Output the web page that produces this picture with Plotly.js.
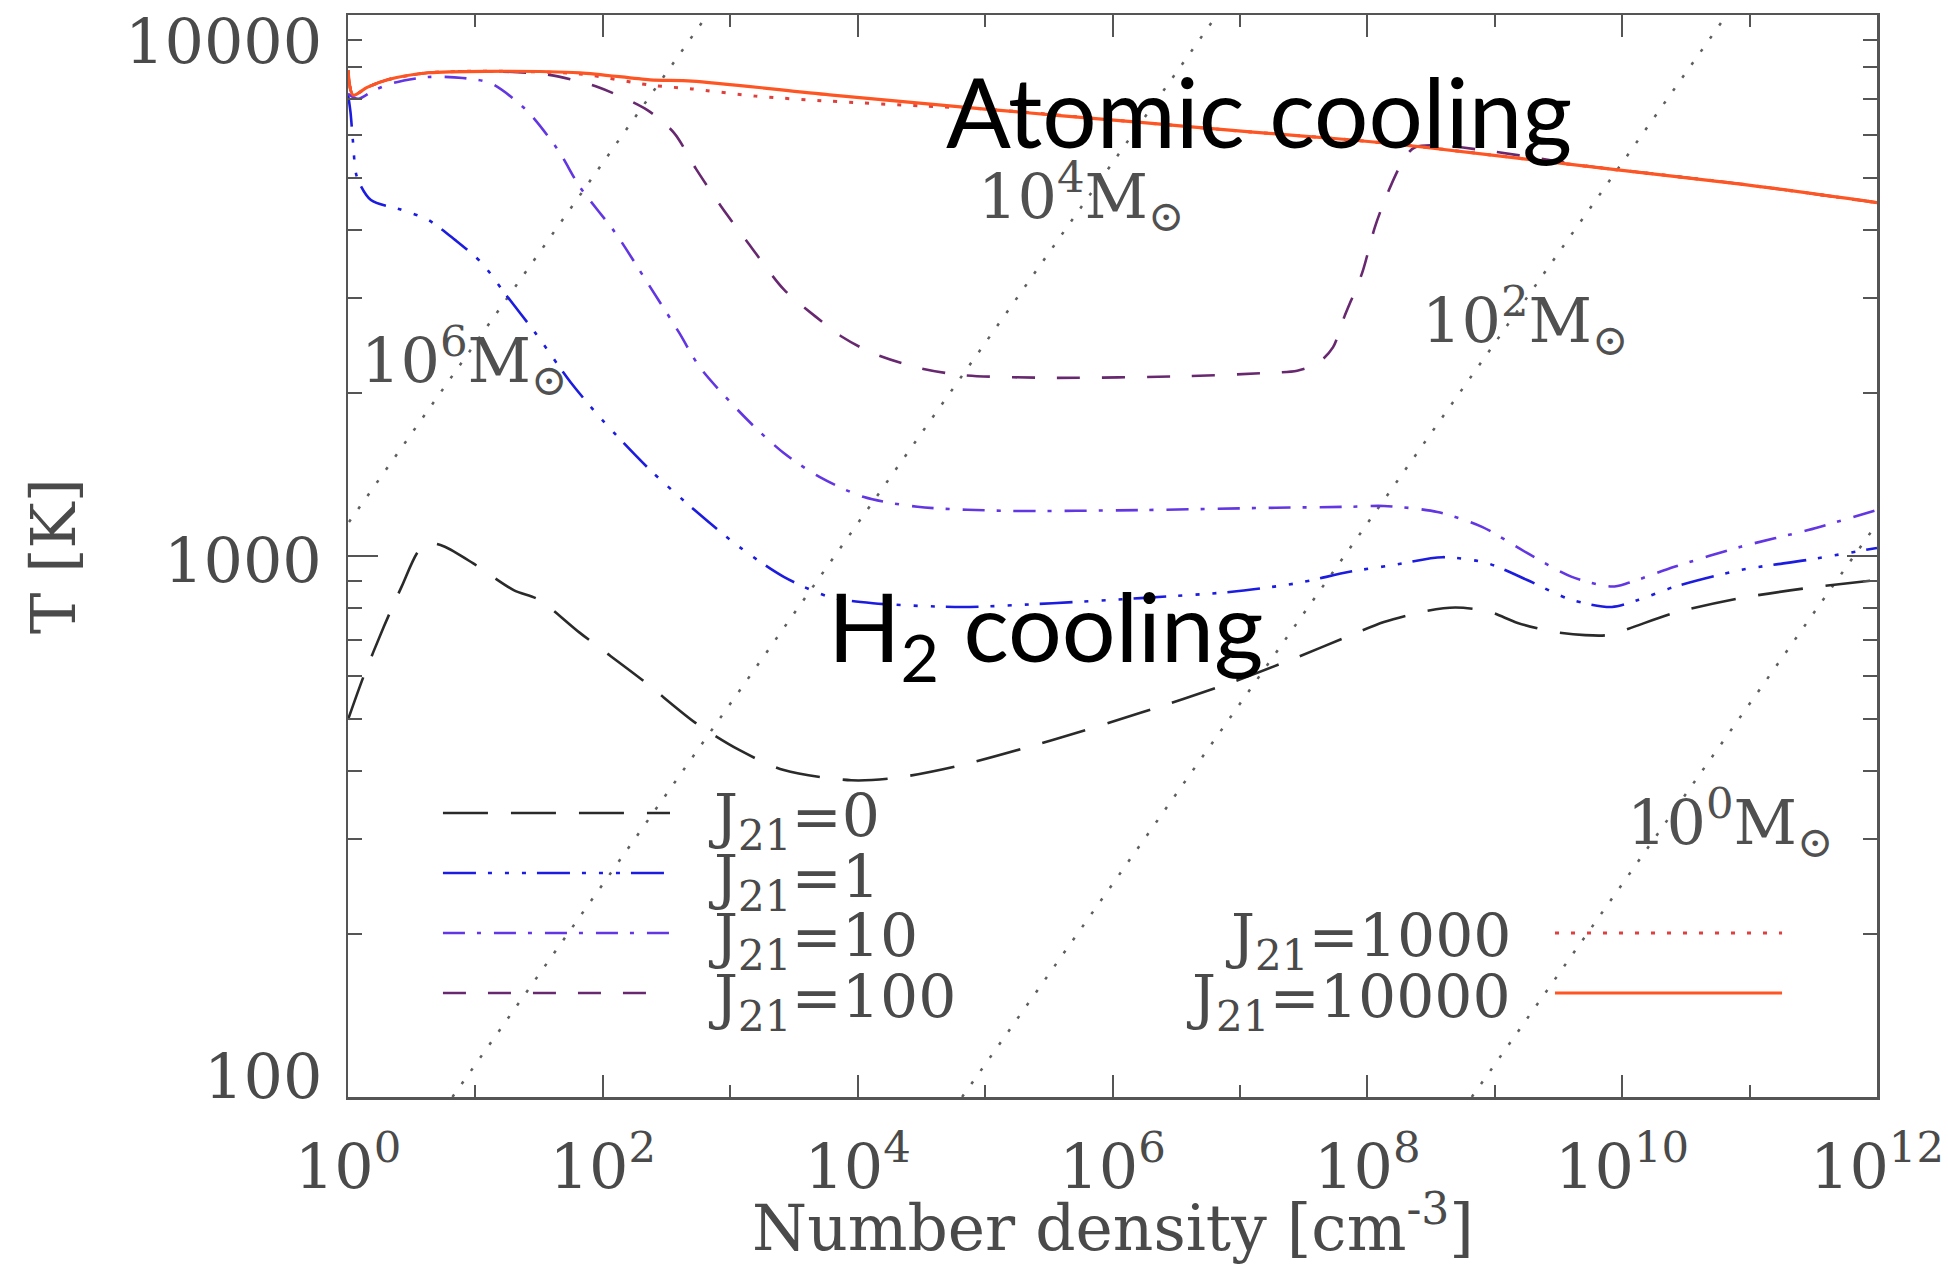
<!DOCTYPE html>
<html>
<head>
<meta charset="utf-8">
<script src="https://cdn.plot.ly/plotly-3.0.1.min.js"></script>
<style>
  html, body { margin: 0; padding: 0; background: #ffffff; }
  #chart { width: 1948px; height: 1282px; }
</style>
</head>
<body>
<div id="chart"></div>
<script>
// Gas temperature versus number density during collapse,
// for several strengths of the UV background J21.

// log10 of number density [cm^-3] and temperature [K] for each run
const logN_J0 = [0, 0.12, 0.28, 0.42, 0.56, 0.66, 0.76, 0.98, 1.30, 1.50, 1.82, 2.31, 2.73, 3.07, 3.42, 3.95, 4.30, 4.82, 5.53, 6.22, 6.92, 7.45, 7.86, 8.13, 8.45, 8.69, 8.95, 9.18, 9.45, 9.71, 9.88, 10.05, 10.41, 10.93, 11.46, 12.0];
const T_J0    = [498, 597, 739, 877, 1026, 1055, 1040, 970, 865, 830, 721, 590, 491, 438, 402, 385, 389, 411, 457, 513, 582, 650, 712, 755, 790, 803, 790, 752, 725, 714, 714, 734, 785, 836, 873, 903];

const logN_J1 = [0, 0.02, 0.04, 0.07, 0.18, 0.42, 0.63, 0.84, 1.05, 1.23, 1.47, 1.75, 2.0, 2.37, 2.72, 3.07, 3.42, 3.78, 4.12, 4.82, 5.53, 6.22, 6.92, 7.45, 7.86, 8.2, 8.59, 8.94, 9.25, 9.60, 9.92, 10.13, 10.41, 10.93, 11.46, 12.0];
const T_J1    = [7150, 6600, 5800, 5020, 4550, 4365, 4180, 3840, 3480, 3060, 2585, 2090, 1780, 1443, 1216, 1040, 915, 840, 818, 805, 818, 836, 858, 891, 935, 962, 995, 970, 904, 830, 805, 830, 877, 942, 984, 1035];

const logN_J10 = [0, 0.08, 0.2, 0.35, 0.63, 0.9, 1.12, 1.40, 1.65, 1.82, 2.10, 2.35, 2.60, 2.76, 3.14, 3.42, 3.70, 4.05, 4.47, 5.17, 6.22, 7.28, 7.86, 8.13, 8.55, 8.90, 9.25, 9.60, 9.92, 10.05, 10.41, 10.93, 11.46, 12.0];
const T_J10    = [7150, 7000, 7250, 7480, 7680, 7650, 7480, 6670, 5620, 4810, 3950, 3200, 2585, 2235, 1780, 1550, 1400, 1285, 1233, 1212, 1216, 1228, 1233, 1237, 1206, 1132, 1014, 916, 878, 892, 955, 1040, 1117, 1216];

const logN_J100 = [0, 0.04, 0.15, 0.31, 0.63, 1.12, 1.58, 1.96, 2.35, 2.56, 2.73, 2.93, 3.14, 3.42, 3.67, 3.88, 4.12, 4.47, 4.82, 5.52, 6.58, 7.22, 7.45, 7.61, 7.73, 7.82, 7.96, 8.06, 8.16, 8.27, 8.38, 9.88, 10.93, 12.0];
const T_J100    = [7910, 7110, 7350, 7590, 7820, 7870, 7750, 7360, 6670, 6050, 5200, 4420, 3790, 3110, 2770, 2540, 2370, 2230, 2160, 2135, 2150, 2180, 2200, 2270, 2430, 2770, 3340, 4060, 4690, 5320, 5700, 5200, 4870, 4500];

const logN_J1000 = [0, 0.04, 0.15, 0.31, 0.63, 1.12, 1.82, 2.37, 2.70, 3.2, 3.78, 4.5, 5.0, 6.22, 7.08, 7.86, 8.38, 9.88, 10.93, 12.0];
const T_J1000    = [7910, 7110, 7350, 7590, 7820, 7870, 7780, 7420, 7300, 7080, 6930, 6790, 6700, 6330, 6080, 5880, 5720, 5200, 4870, 4500];

const logN_J10000 = [0, 0.04, 0.15, 0.31, 0.63, 1.12, 1.82, 2.37, 2.70, 3.78, 5.0, 6.22, 7.08, 7.86, 8.38, 9.88, 10.93, 12.0];
const T_J10000    = [7910, 7110, 7350, 7590, 7820, 7870, 7820, 7590, 7550, 7120, 6700, 6330, 6080, 5880, 5720, 5200, 4870, 4500];

// Lines of constant Jeans mass: density where each line crosses T = 100 K and T = 10^4 K
const jeansLabels = ['10<sup>6</sup>M<sub>⊙</sub>', '10<sup>4</sup>M<sub>⊙</sub>', '10<sup>2</sup>M<sub>⊙</sub>', '10<sup>0</sup>M<sub>⊙</sub>'];
const jeansN_atTlow  = [6.6e-4, 6.6, 6.6e4, 6.6e8];
const jeansN_atThigh = [6.6e2, 6.6e6, 6.6e10, 6.6e14];
const jeansT = [100, 10000];

// Axis ticks
const xTickVals = [1, 1e2, 1e4, 1e6, 1e8, 1e10, 1e12];
const xTickText = ['10<sup>0</sup>', '10<sup>2</sup>', '10<sup>4</sup>', '10<sup>6</sup>', '10<sup>8</sup>', '10<sup>10</sup>', '10<sup>12</sup>'];
const xMinorVals = [10, 1e3, 1e5, 1e7, 1e9, 1e11];
const yTickVals = [100, 1000, 10000];
const yTickText = ['100', '1000', '10000'];
const yMinorVals = [200, 300, 400, 500, 600, 700, 800, 900, 2000, 3000, 4000, 5000, 6000, 7000, 8000, 9000];
const xTitle = 'Number density [cm<sup>-3</sup>]';
const yTitle = 'T [K]';

const serif = 'DejaVu Serif, Liberation Serif, serif';
const sans = 'Lato, Open Sans, sans-serif';
const textGrey = '#4a4a4a';
const axisGrey = '#555555';

const runs = [
  { name: 'J<sub>21</sub>=0',     logN: logN_J0,     T: T_J0,     color: '#2a2a2a', dash: '45px,23px', width: 2.6, side: 'left' },
  { name: 'J<sub>21</sub>=1',     logN: logN_J1,     T: T_J1,     color: '#1c1ce0', dash: '33px,12px,4px,13px,4px,13px,4px,11px', width: 2.6, side: 'left' },
  { name: 'J<sub>21</sub>=10',    logN: logN_J10,    T: T_J10,    color: '#6236e2', dash: '22px,12px,4px,13px', width: 2.6, side: 'left' },
  { name: 'J<sub>21</sub>=100',   logN: logN_J100,   T: T_J100,   color: '#682870', dash: '23px,22px', width: 2.6, side: 'left' },
  { name: 'J<sub>21</sub>=1000',  logN: logN_J1000,  T: T_J1000,  color: '#e0403c', dash: '4px,12px', width: 3, side: 'right' },
  { name: 'J<sub>21</sub>=10000', logN: logN_J10000, T: T_J10000, color: '#ff5522', dash: 'solid', width: 3.2, side: 'right' }
];

const traces = [];

jeansLabels.forEach((lab, i) => {
  traces.push({
    x: [jeansN_atTlow[i], jeansN_atThigh[i]],
    y: jeansT,
    mode: 'lines',
    line: { color: '#5e5e5e', width: 2.5, dash: '3px,13px' },
    showlegend: false,
    hoverinfo: 'skip'
  });
});

runs.forEach(r => {
  traces.push({
    x: r.logN.map(v => Math.pow(10, v)),
    y: r.T,
    mode: 'lines',
    name: r.name,
    line: { color: r.color, width: r.width, dash: r.dash, shape: 'spline', smoothing: 0.8 },
    showlegend: false
  });
});

// Hand-placed legend (two groups, long line samples)
const shapes = [];
const annotations = [];
const rowY = [0.2625, 0.2070, 0.1516, 0.0961];
const leftRuns = runs.filter(r => r.side === 'left');
const rightRuns = runs.filter(r => r.side === 'right');
leftRuns.forEach((r, i) => {
  shapes.push({
    type: 'line', xref: 'paper', yref: 'paper',
    x0: 0.0621, x1: (i === 3 ? 0.1956 : 0.2106), y0: rowY[i], y1: rowY[i],
    line: { color: r.color, width: r.width, dash: r.dash }
  });
  annotations.push({
    xref: 'paper', yref: 'paper', x: 0.2340, y: rowY[i], xanchor: 'left', yanchor: 'middle',
    yshift: -8, text: r.name, showarrow: false,
    font: { family: serif, size: 60, color: textGrey }
  });
});
rightRuns.forEach((r, i) => {
  const y = rowY[i + 2];
  shapes.push({
    type: 'line', xref: 'paper', yref: 'paper',
    x0: 0.7894, x1: 0.9379, y0: y, y1: y,
    line: { color: r.color, width: r.width, dash: r.dash }
  });
  annotations.push({
    xref: 'paper', yref: 'paper', x: 0.7620, y: y, xanchor: 'right', yanchor: 'middle',
    yshift: -8, text: r.name, showarrow: false,
    font: { family: serif, size: 60, color: textGrey }
  });
});

// Jeans-mass labels
const jeansLabelPos = [[0.0070, 0.681], [0.4110, 0.8327], [0.7010, 0.7180], [0.8350, 0.2540]];
jeansLabels.forEach((lab, i) => {
  annotations.push({
    xref: 'paper', yref: 'paper', x: jeansLabelPos[i][0], y: jeansLabelPos[i][1],
    xanchor: 'left', yanchor: 'middle', text: lab, showarrow: false,
    font: { family: serif, size: 62, color: '#505050' }
  });
});

// Regime labels
annotations.push({
  xref: 'paper', yref: 'paper', x: 0.3898, y: 0.9667, xanchor: 'left', yanchor: 'top',
  text: 'Atomic cooling', showarrow: false,
  font: { family: sans, size: 96, color: '#000000' }
});
annotations.push({
  xref: 'paper', yref: 'paper', x: 0.3125, y: 0.4908, xanchor: 'left', yanchor: 'top',
  text: 'H<sub>2</sub> cooling', showarrow: false,
  font: { family: sans, size: 95, color: '#000000' }
});

// Temperature tick labels
yTickVals.forEach((v, i) => {
  const last = i === yTickVals.length - 1;
  annotations.push({
    xref: 'paper', yref: 'y', x: 0, y: Math.log10(v),
    xanchor: 'right', yanchor: i === 0 ? 'bottom' : (last ? 'top' : 'middle'),
    xshift: -24, yshift: i === 0 ? -18 : (last ? 12 : -4),
    text: yTickText[i], showarrow: false,
    font: { family: serif, size: 62, color: textGrey }
  });
});

// Density axis title, set just under the tick labels
annotations.push({
  xref: 'paper', yref: 'paper', x: 0.5, y: -0.117, xanchor: 'center', yanchor: 'middle',
  text: xTitle, showarrow: false,
  font: { family: serif, size: 63, color: textGrey }
});

const layout = {
  width: 1948, height: 1282,
  margin: { l: 348, r: 71, t: 15, b: 185 },
  paper_bgcolor: '#ffffff', plot_bgcolor: '#ffffff',
  showlegend: false,
  xaxis: {
    type: 'log', range: [0, 12],
    tickmode: 'array', tickvals: xTickVals, ticktext: xTickText,
    ticks: 'inside', ticklen: 22, tickwidth: 2, tickcolor: axisGrey,
    minor: { tickmode: 'array', tickvals: xMinorVals, ticks: 'inside', ticklen: 12, tickwidth: 2, tickcolor: axisGrey, showgrid: false },
    showline: true, linecolor: axisGrey, linewidth: 2.5, mirror: 'ticks',
    showgrid: false, zeroline: false,
    ticklabelstandoff: 14,
    tickfont: { family: serif, size: 62, color: textGrey }
  },
  yaxis: {
    type: 'log', range: [2, 4],
    tickmode: 'array', tickvals: yTickVals, ticktext: yTickText,
    showticklabels: false,
    ticks: 'inside', ticklen: 30, tickwidth: 2, tickcolor: axisGrey,
    minor: { tickmode: 'array', tickvals: yMinorVals, ticks: 'inside', ticklen: 14, tickwidth: 2, tickcolor: axisGrey, showgrid: false },
    showline: true, linecolor: axisGrey, linewidth: 2.5, mirror: 'ticks',
    showgrid: false, zeroline: false,
    title: { text: yTitle, font: { family: serif, size: 62, color: textGrey }, standoff: 250 }
  },
  shapes: shapes,
  annotations: annotations
};

Plotly.newPlot('chart', traces, layout, { displayModeBar: false, staticPlot: true });
</script>
</body>
</html>
